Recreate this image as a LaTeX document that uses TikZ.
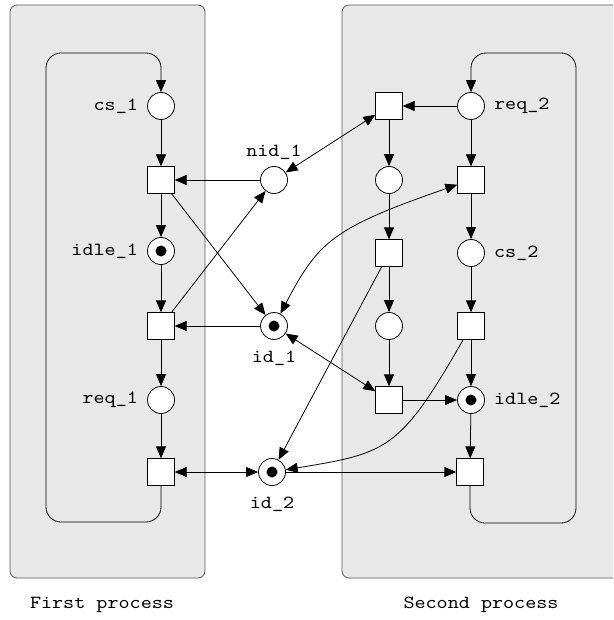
\documentclass[tikz,border=0pt]{standalone}
\usepackage{fontspec}
\setmonofont{lmmono10-regular.otf}[FakeStretch=1.14]
\usetikzlibrary{arrows.meta}
\definecolor{procfill}{HTML}{E8E8E8}
\definecolor{procline}{HTML}{5A5A5A}
\begin{document}
\begin{tikzpicture}[x=1pt,y=-1pt,
  font=\ttfamily\fontsize{18.5}{20}\selectfont,
  proc/.style={draw=procline,fill=procfill,line width=0.8pt,rounded corners=7pt},
  place/.style={circle,draw,fill=white,line width=0.8pt,minimum size=27pt,inner sep=0pt},
  marked/.style={place,label={[circle,fill=black,inner sep=0pt,minimum size=11pt]center:}},
  trans/.style={rectangle,draw,fill=white,line width=0.8pt,minimum size=26.5pt,inner sep=0pt},
  tip/.tip={Triangle[length=12pt,width=10pt]},
  arc/.style={line width=0.8pt,-tip},
  biarc/.style={line width=0.8pt,tip-tip},
  loop/.style={arc,rounded corners=15pt},
  lbl/.style={inner sep=0pt}]
\useasboundingbox (0,0) rectangle (613,620);
\clip (0,0) rectangle (613,620);

% process frames
\draw[proc] (10,5) rectangle (205,578);
\draw[proc] (342,5) rectangle (640,578);
\node[lbl] (lab1) at (102,605) {First process};
\node[lbl] (lab2) at (481,605) {Second process};

% first process
\node[place]  (cs1)   at (161,106) {};
\node[trans]  (t1)    at (161,180) {};
\node[marked] (idle1) at (161,251) {};
\node[trans]  (t2)    at (161,326) {};
\node[place]  (req1)  at (161,400) {};
\node[trans]  (t3)    at (161,472) {};
\node[lbl,left=9pt] at (cs1.west) {cs\_1};
\node[lbl,left=9pt] at (idle1.west) {idle\_1};
\node[lbl,left=9pt] at (req1.west) {req\_1};

% shared places
\node[place]  (nid1) at (274,180) {};
\node[marked] (id1)  at (274,326) {};
\node[marked] (id2)  at (272,472) {};
\node[lbl,above=6pt] at (nid1.north) {nid\_1};
\node[lbl,below=11pt] at (id1.south) {id\_1};
\node[lbl,below=11pt] at (id2.south) {id\_2};

% second process
\node[trans]  (ta1)   at (389,106) {};
\node[place]  (req2)  at (471,106) {};
\node[place]  (pa1)   at (389,180) {};
\node[trans]  (tb1)   at (471,180) {};
\node[trans]  (ta2)   at (389,253) {};
\node[place]  (cs2)   at (471,253) {};
\node[place]  (pa2)   at (389,326) {};
\node[trans]  (tb2)   at (471,326) {};
\node[trans]  (ta3)   at (389,400) {};
\node[marked] (idle2) at (471,400) {};
\node[trans]  (tb3)   at (470,472) {};
\node[lbl,right=9pt] at (req2.east) {req\_2};
\node[lbl,right=9pt] at (cs2.east) {cs\_2};
\node[lbl,right=9pt] at (idle2.east) {idle\_2};

% first process arcs
\draw[arc] (cs1) -- (t1);
\draw[arc] (t1) -- (idle1);
\draw[arc] (idle1) -- (t2);
\draw[arc] (t2) -- (req1);
\draw[arc] (req1) -- (t3);
\draw[loop] (t3.south) -- (161,522) -- (46,522) -- (46,53) -- (161,53) -- (cs1.north);
\draw[arc] (nid1) -- (t1);
\draw[arc] (id1) -- (t2);
\draw[arc] (t1) -- (id1);
\draw[arc] (t2) -- (nid1);
\draw[biarc] (t3) -- (id2);

% second process arcs
\draw[arc] (req2) -- (ta1);
\draw[arc] (req2) -- (tb1);
\draw[arc] (ta1) -- (pa1);
\draw[arc] (pa1) -- (ta2);
\draw[arc] (ta2) -- (pa2);
\draw[arc] (pa2) -- (ta3);
\draw[arc] (tb1) -- (cs2);
\draw[arc] (cs2) -- (tb2);
\draw[arc] (tb2) -- (idle2);
\draw[arc] (ta3) -- (idle2);
\draw[arc] (idle2) -- (tb3);
\draw[arc] (id2) -- (tb3);
\draw[loop] (tb3.south) -- (470,523) -- (576,523) -- (576,53) -- (471,53) -- (req2.north);

% arcs between the processes
\draw[biarc] (nid1) -- (ta1);
\draw[biarc] (id1) -- (ta3);
\draw[biarc] (id1) .. controls (318,242) and (332,228) .. (tb1);
\draw[arc] (ta2) -- (id2);
\draw[arc] (tb2) .. controls (400,450) and (388,453) .. (id2);
\end{tikzpicture}
\end{document}
